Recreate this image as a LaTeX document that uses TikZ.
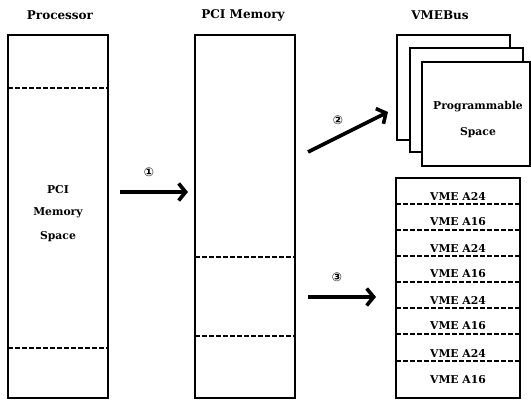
\documentclass[tikz,border=0pt]{standalone}
\usepackage{fontspec}
\newfontfamily\dejavu{DejaVu Sans}
\newfontfamily\dvserif{DejaVu Serif}
\usetikzlibrary{arrows.meta}
\begin{document}
\begin{tikzpicture}[x=1pt,y=-1pt,
  box/.style={draw, line width=1.2pt, fill=white},
  sep/.style={line width=1.2pt, dash pattern=on 4.5pt off 2.5pt},
  bigarrow/.style={line width=3.6pt, -{Straight Barb[length=7pt,width=17pt]}},
  title/.style={font=\dvserif\fontsize{12}{14}\selectfont\bfseries},
  lbl/.style={font=\dvserif\fontsize{10.8}{12}\selectfont\bfseries},
  num/.style={font=\dejavu\fontsize{12}{13}\selectfont\bfseries}]
\useasboundingbox (0,0) rectangle (531,401);

% titles
\node[title] (tproc) at (60,15) {Processor};
\node[title] (tpci) at (243,15) {PCI Memory};
\node[title] (tvme) at (440,15) {VMEBus};

% Processor column
\draw[box] (8,35) rectangle (108,398);
\coordinate (p1l) at (8,88);  \coordinate (p1r) at (108,88);
\coordinate (p2l) at (8,348); \coordinate (p2r) at (108,348);
\draw[sep] (p1l) -- (p1r);
\draw[sep] (p2l) -- (p2r);
\node[lbl] (pci) at (58,190) {PCI};
\node[lbl] (mem) at (58,213) {Memory};
\node[lbl] (spc) at (58,237) {Space};

% PCI Memory column
\draw[box] (195,35) rectangle (295,398);
\coordinate (m1l) at (195,257); \coordinate (m1r) at (295,257);
\coordinate (m2l) at (195,336); \coordinate (m2r) at (295,336);
\draw[sep] (m1l) -- (m1r);
\draw[sep] (m2l) -- (m2r);

% VMEBus programmable space stack
\draw[box] (397,35) rectangle (510,140);
\draw[box] (410,48) rectangle (523,152);
\draw[box] (422,62) rectangle (530,166);
\node[lbl] (prog) at (478,107) {Programmable};
\node[lbl] (pspc) at (478,133) {Space};

% VME list
\draw[box] (396,178) rectangle (520,398);
\foreach \y in {204,230,256,282,308,334,361}{
  \draw[sep] (396,\y) -- (520,\y);
}
\foreach \y/\t in {196/A24,222/A16,248/A24,274/A16,300/A24,326/A16,353/A24,380/A16}{
  \node[lbl] at (458,\y) {VME \t};
}

% arrows
\coordinate (a1s) at (120,192); \coordinate (a1e) at (188,192);
\coordinate (a2s) at (308,152); \coordinate (a2e) at (388,112);
\coordinate (a3s) at (308,297); \coordinate (a3e) at (376,297);
\draw[bigarrow] (a1s) -- (a1e);
\draw[bigarrow] (a2s) -- (a2e);
\draw[bigarrow] (a3s) -- (a3e);
\node[num] (n1) at (149,172) {①};
\node[num] (n2) at (338,120) {②};
\node[num] (n3) at (337,277) {③};
\end{tikzpicture}
\end{document}
